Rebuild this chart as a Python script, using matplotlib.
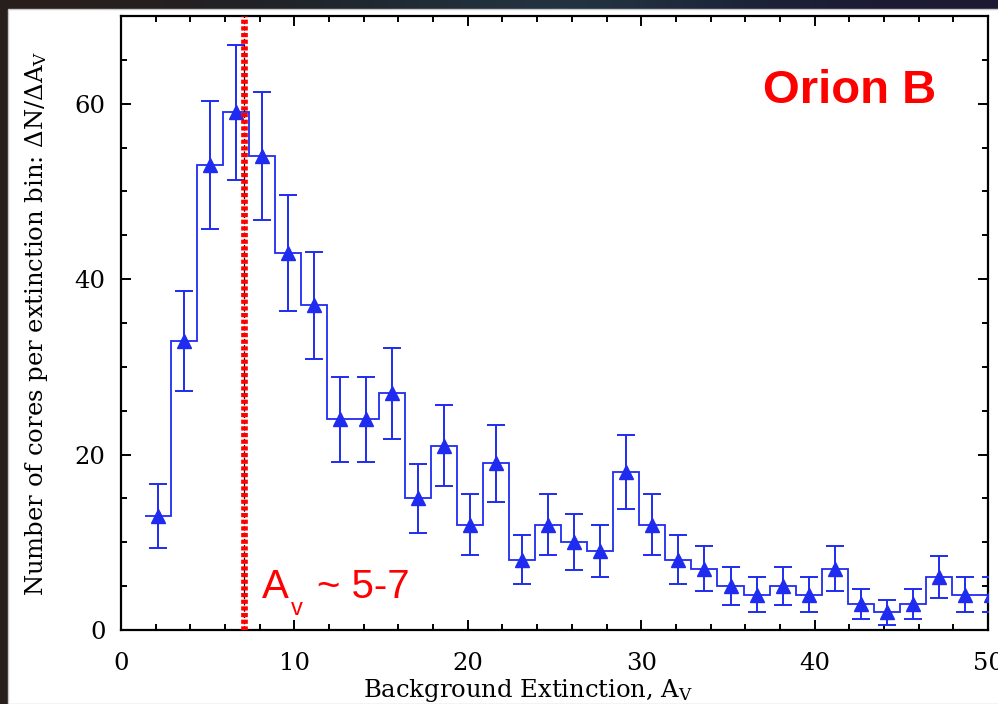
import numpy as np
import matplotlib
matplotlib.use("Agg")
import matplotlib.pyplot as plt
from matplotlib.patches import Rectangle
from matplotlib.ticker import MultipleLocator

# core counts per background-extinction bin (Orion B)
bin_centers = [2.15, 3.65, 5.15, 6.65, 8.15, 9.65, 11.15, 12.65, 14.15, 15.65, 17.15,
               18.65, 20.15, 21.65, 23.15, 24.65, 26.15, 27.65, 29.15, 30.65, 32.15,
               33.65, 35.15, 36.65, 38.15, 39.65, 41.15, 42.65, 44.15, 45.65, 47.15,
               48.65, 50.15]
counts = [13, 33, 53, 59, 54, 43, 37, 24, 24, 27, 15, 21, 12, 19, 8, 12, 10, 9, 18,
          12, 8, 7, 5, 4, 5, 4, 7, 3, 2, 3, 6, 4, 4]
errors = [3.6, 5.7, 7.3, 7.7, 7.3, 6.6, 6.1, 4.9, 4.9, 5.2, 3.9, 4.6, 3.5, 4.4, 2.8,
          3.5, 3.2, 3.0, 4.2, 3.5, 2.8, 2.6, 2.2, 2.0, 2.2, 2.0, 2.6, 1.7, 1.4, 1.7,
          2.4, 2.0, 2.0]
bin_width = 1.5
av_peak = 7.07

plt.rcParams['lines.scale_dashes'] = False
plt.rcParams['mathtext.fontset'] = 'dejavuserif'
serif = 'DejaVu Serif'
blue = '#1f2cf0'

fig = plt.figure(figsize=(9.98, 7.04), dpi=100)

# dark backdrop with a white panel
bg = fig.add_axes([0, 0, 1, 1], zorder=-10)
grad = np.array([[[0.16, 0.12, 0.11], [0.13, 0.13, 0.15], [0.12, 0.17, 0.21],
                  [0.15, 0.22, 0.27], [0.10, 0.13, 0.22], [0.12, 0.10, 0.20]]])
bg.imshow(grad, aspect='auto', extent=[0, 1, 0, 1], interpolation='bicubic')
bg.add_patch(Rectangle((8 / 998, 0), 1, (704 - 9) / 704, facecolor='white',
                       edgecolor='#c8c8c8', linewidth=1.0))
bg.set_xlim(0, 1)
bg.set_ylim(0, 1)
bg.axis('off')

ax = fig.add_axes([121 / 998, 74 / 704, 867 / 998, 614 / 704])
ax.set_facecolor('white')

edges = np.append(np.array(bin_centers) - bin_width / 2, bin_centers[-1] + bin_width / 2)
ax.stairs(counts, edges, baseline=None, color=blue, linewidth=1.3, zorder=3)
ax.errorbar(bin_centers, counts, yerr=errors, fmt='^', color=blue, ms=10,
            ecolor=blue, elinewidth=1.4, capsize=6.5, capthick=1.4, zorder=4)

# peak extinction marker
ax.axvline(av_peak, color='black', linewidth=0.9, dashes=(3, 1.5), zorder=5)
ax.axvline(av_peak, color='#ff0000', linewidth=4.8, dashes=(3.0, 1.8), zorder=6)

ax.text(37.0, 60.1, 'Orion B', color='#ff0000', fontsize=34, fontweight='bold',
        family='Liberation Sans', ha='left', va='baseline')
ax.text(8.15, 3.6, 'A', color='#ff0000', fontsize=29, family='Liberation Sans',
        ha='left', va='baseline')
ax.text(9.8, 1.75, 'v', color='#ff0000', fontsize=17, family='Liberation Sans',
        ha='left', va='baseline')
ax.text(11.3, 3.6, '~ 5-7', color='#ff0000', fontsize=29, family='Liberation Sans',
        ha='left', va='baseline')

ax.set_xlim(0, 50)
ax.set_ylim(0, 70)
ax.xaxis.set_major_locator(MultipleLocator(10))
ax.xaxis.set_minor_locator(MultipleLocator(2))
ax.yaxis.set_major_locator(MultipleLocator(20))
ax.yaxis.set_minor_locator(MultipleLocator(5))
ax.tick_params(which='both', direction='in', top=True, right=True, width=1.4,
               color='black')
ax.tick_params(which='major', length=7.5, labelsize=17.5)
ax.tick_params(which='minor', length=4)
ax.tick_params(axis='x', pad=16)
ax.tick_params(axis='y', pad=11)
for lab in ax.get_xticklabels() + ax.get_yticklabels():
    lab.set_family(serif)
for sp in ax.spines.values():
    sp.set_linewidth(1.6)

ax.set_xlabel(r'Background Extinction, A$_\mathrm{V}$', family=serif, fontsize=17.5)
ax.xaxis.set_label_coords(0.469, -0.077)
ax.set_ylabel(r'Number of cores per extinction bin: $\Delta$N/$\Delta$A$_\mathrm{V}$',
              family=serif, fontsize=17.5)
ax.yaxis.set_label_coords(-0.082, 0.5)

fig.savefig('out.png', dpi=100)
